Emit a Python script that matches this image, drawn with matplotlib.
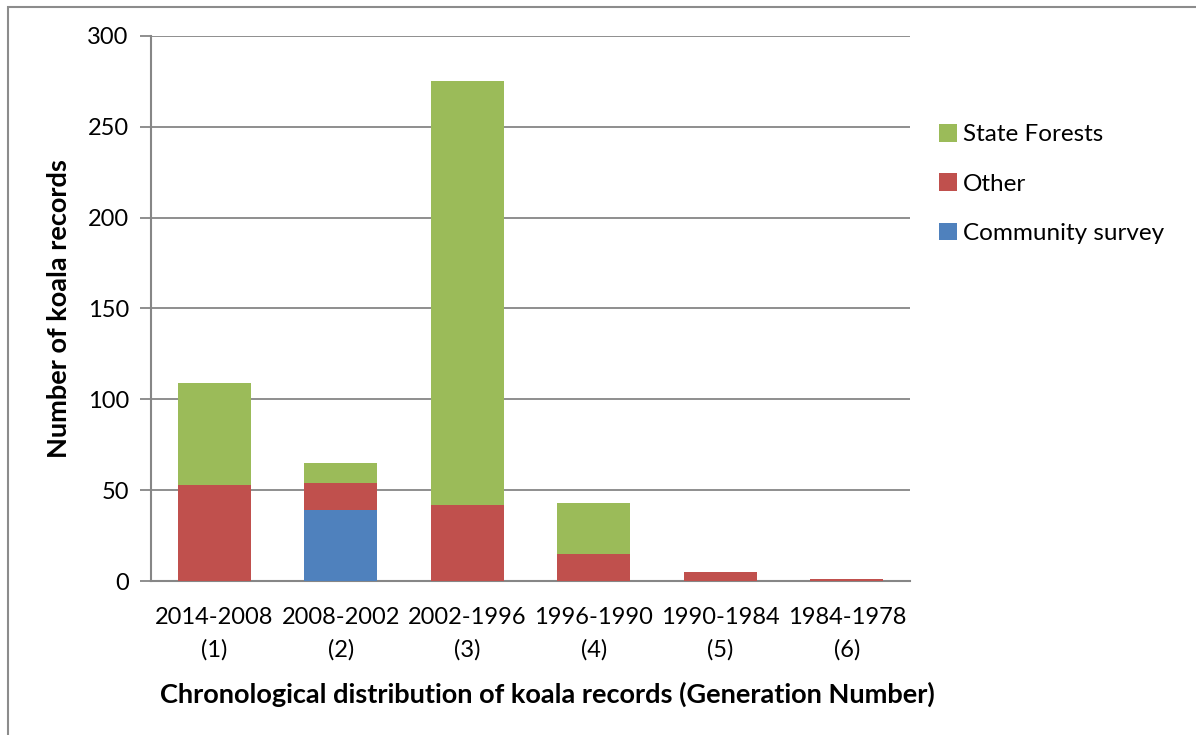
"""Stacked bar chart of koala records by generation"""

import matplotlib
matplotlib.use("Agg")
import matplotlib.pyplot as plt
from matplotlib.patches import Rectangle
import numpy as np

periods = ["2014-2008", "2008-2002", "2002-1996", "1996-1990", "1990-1984", "1984-1978"]
generations = ["(1)", "(2)", "(3)", "(4)", "(5)", "(6)"]
community_survey = [0, 39, 0, 0, 0, 0]
other = [53, 15, 42, 15, 5, 1]
state_forests = [56, 11, 233, 28, 0, 0]

GREEN = "#9BBB59"
RED = "#C0504D"
BLUE = "#4F81BD"
GRID = "#868686"

plt.rcParams["font.family"] = ["Lato", "DejaVu Sans"]

fig = plt.figure(figsize=(11.96, 7.35), dpi=100)
ax = fig.add_axes([151 / 1196, 1 - 581 / 735, (910 - 151) / 1196, (581 - 36) / 735])

# outer chart frame
fig.patches.append(Rectangle((8 / 1196, -0.01), 1.0, 1 - 7 / 735 + 0.01,
                             transform=fig.transFigure, fill=False,
                             edgecolor="#8c8c8c", linewidth=1.5))

x = np.arange(len(periods))
w = 0.577
cs = np.array(community_survey)
ot = np.array(other)
sf = np.array(state_forests)

ax.bar(x, cs, w, color=BLUE, label="Community survey", zorder=3)
ax.bar(x, ot, w, bottom=cs, color=RED, label="Other", zorder=3)
ax.bar(x, sf, w, bottom=cs + ot, color=GREEN, label="State Forests", zorder=3)

ax.set_xlim(-0.5, len(periods) - 0.5)
ax.set_ylim(0, 300)
ax.set_yticks(range(0, 301, 50))
ax.yaxis.grid(True, color=GRID, linewidth=1.3, zorder=0)
ax.set_xticks(x)
ax.set_xticklabels([f"{p}\n{g}" for p, g in zip(periods, generations)],
                   fontsize=17, linespacing=1.6)
ax.tick_params(axis="x", length=0, pad=19)
ax.tick_params(axis="y", length=8, width=1.3, color=GRID, labelsize=17, pad=8)

for side in ["top", "right"]:
    ax.spines[side].set_visible(False)
for side in ["left", "bottom"]:
    ax.spines[side].set_color(GRID)
    ax.spines[side].set_linewidth(1.5)

ax.set_ylabel("Number of koala records", fontsize=19.5, fontweight="bold")
ax.yaxis.set_label_coords(-0.106, 0.5)
ax.set_xlabel("Chronological distribution of koala records (Generation Number)",
              fontsize=19.5, fontweight="bold")
ax.xaxis.set_label_coords(0.522, -0.184)

handles, labels = ax.get_legend_handles_labels()
fig.legend(handles[::-1], labels[::-1], loc="upper left",
           bbox_to_anchor=(917 / 1196, 1 - 102 / 735), frameon=False,
           fontsize=17.5, handlelength=0.75, handleheight=0.75,
           handletextpad=0.25, labelspacing=1.15)

fig.savefig("out.png", dpi=100)
